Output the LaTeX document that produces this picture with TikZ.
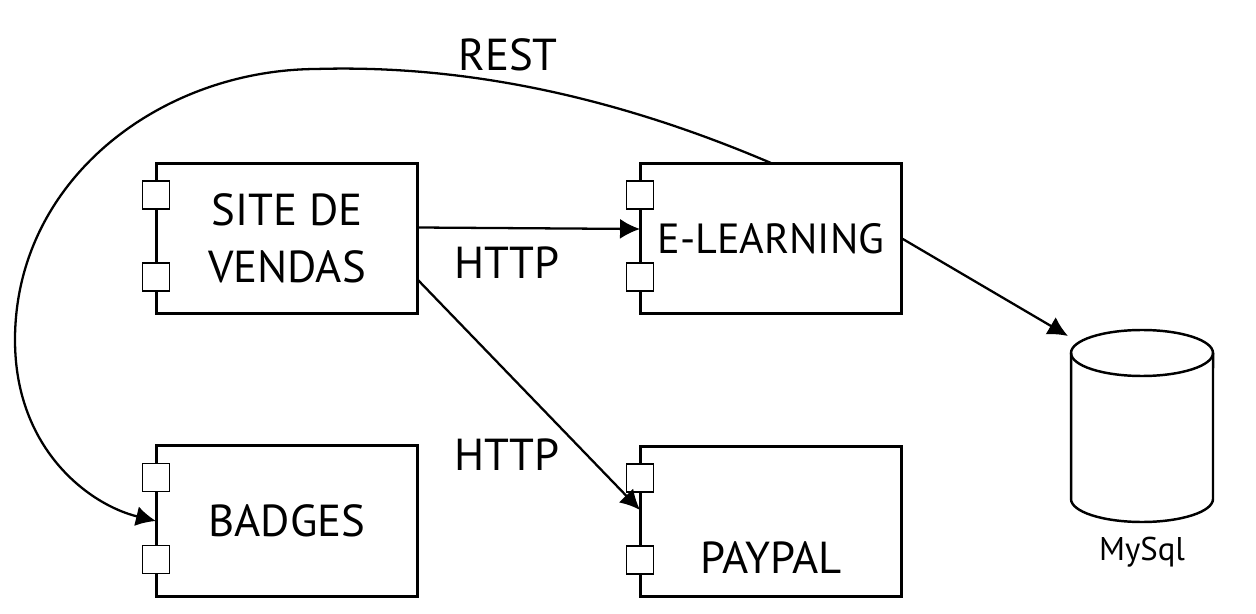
\documentclass[tikz,border=0pt]{standalone}
\usepackage{fontspec}
\setmainfont{PT Sans}
\usetikzlibrary{arrows.meta}
\tikzset{%
  >={Latex[length=4mm,width=4mm]}, % default arrow style
  compbox/.style={draw, line width=1.7pt, minimum width=5.24cm,
    minimum height=3.02cm, inner sep=0pt, outer sep=0pt, align=center,
    font=\fontsize{25.5}{32.4}\selectfont},
  port/.style={draw, fill=white, line width=0.9pt, minimum width=0.54cm,
    minimum height=0.56cm, inner sep=0pt},
  wire/.style={->, line width=1.3pt},
  lbl/.style={font=\fontsize{25.5}{32.4}\selectfont, inner sep=0pt}%
}
\newcommand{\component}[4]{% name, x, y, text
  \node[compbox] (#1) at (#2,#3) {#4};
  % ports on the left side
  \node[port] (#1-p1) at ([yshift=-0.64cm]#1.north west) {};
  \node[port] (#1-p2) at ([yshift=0.74cm]#1.south west) {};
}

\begin{document}
\begin{tikzpicture}[x=0.02cm, y=-0.02cm]
  \useasboundingbox (0,0) rectangle (1256,614);
  % components
  \component{site}{287}{238.5}{SITE DE\\VENDAS}
  \component{elearn}{771}{238.5}{\fontsize{24}{29}\selectfont E-LEARNING}
  \component{badges}{287}{521}{BADGES}
  \component{paypal}{771}{521.5}{}
  \node[lbl] (paypaltxt) at ([yshift=-0.72cm]paypal.center) {PAYPAL};
  % database
  \draw[line width=1.4pt] (1142,353) ellipse [x radius=1.42cm, y radius=0.46cm];
  \draw[line width=1.4pt] (1071,353) -- (1071,499)
    arc[start angle=180, end angle=360, x radius=1.42cm, y radius=0.46cm] -- (1213,353);
  \coordinate (db) at (1068,336);
  \node[font=\fontsize{18.7}{22}\selectfont] (mysql) at (1142,552) {MySql};
  % labels
  \node[lbl] (rest)  at (508,55)  {REST};
  \node[lbl] (http1) at (507,263) {HTTP};
  \node[lbl] (http2) at (507,455) {HTTP};
  % connections
  \draw[wire] ([yshift=0.22cm]site.east) -- ([yshift=0.19cm]elearn.west);
  \draw[wire] ([yshift=-0.83cm]site.east) -- ([yshift=0.23cm]paypal.west);
  \draw[wire] (elearn.east) -- (db);
  \draw[wire] (elearn.north) .. controls (600,90) and (450,65) .. (316,69)
    .. controls (160,70) and (15,180) .. (15,340)
    .. controls (15,450) and (90,505) .. (badges.west);
\end{tikzpicture}
\end{document}
